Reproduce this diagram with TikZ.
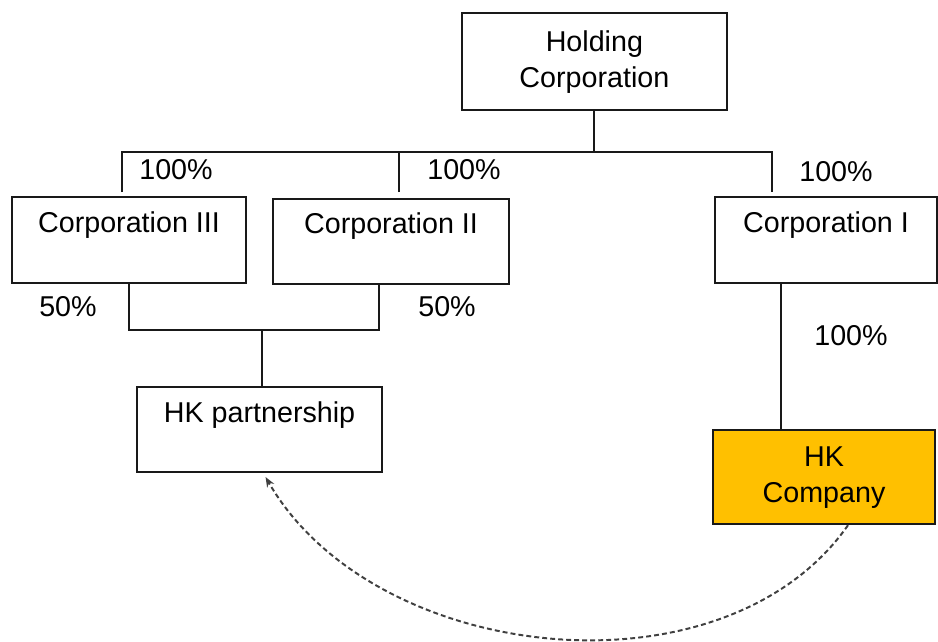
\documentclass[tikz,border=0pt]{standalone}
\usepackage{fontspec}
\setmainfont{Liberation Sans}
\usepackage{tikz}
\usetikzlibrary{arrows}
\usetikzlibrary{arrows.meta}
\usepackage{xcolor}
\definecolor{hkorange}{HTML}{FFC000}

\begin{document}
\begin{tikzpicture}
\tikzset{>={Stealth[width=2mm,length=2.5mm]}}
\tikzstyle{entity} =[draw=black!90,line width=1.4pt,align=center,inner sep=0pt,font=\fontsize{20.4}{25.6}\selectfont]
\tikzstyle{share} =[inner sep=0pt,font=\fontsize{20.4}{25.6}\selectfont]
\tikzstyle{tree} =[draw=black!90,line width=1.4pt]
\useasboundingbox (0,0) rectangle (23.45,-16.025);
\node[entity,minimum width=6.625cm,minimum height=2.425cm](hold) at (14.86,-1.54){Holding\\Corporation};
\node[entity,minimum width=5.85cm,minimum height=2.15cm](corp3) at (3.225,-6.0){Corporation III\\~};
\node[entity,minimum width=5.9cm,minimum height=2.125cm](corp2) at (9.775,-6.04){Corporation II\\~};
\node[entity,minimum width=5.55cm,minimum height=2.15cm](corp1) at (20.65,-6.0){Corporation I\\~};
\node[entity,minimum width=6.125cm,minimum height=2.125cm](hkp) at (6.49,-10.74){HK partnership\\~};
\node[entity,fill=hkorange,minimum width=5.55cm,minimum height=2.35cm](hkc) at (20.6,-11.93){HK\\Company};

\node[share](p3) at (4.4,-4.25){100\%};
\node[share](p2) at (11.6,-4.25){100\%};
\node[share](p1) at (20.9,-4.3){100\%};
\node[share](q3) at (1.7,-7.675){50\%};
\node[share](q2) at (11.175,-7.675){50\%};
\node[share](pc) at (21.275,-8.4){100\%};

\coordinate (bus) at (14.86,-3.8);
\coordinate (d3) at (3.05,-4.8);
\coordinate (d2) at (9.975,-4.8);
\coordinate (d1) at (19.3,-4.8);
\coordinate (join) at (6.55,-8.25);

\draw[tree] (hold) -- (bus);
\draw[tree] (d3) |- (bus) -| (d1);
\draw[tree] (d2) -- (d2 |- bus);
\draw[tree] (corp3.south) |- (join) -| ([xshift=-0.3cm]corp2.south);
\draw[tree] (join) -- (join |- hkp.north);
\draw[tree] ([xshift=-1.125cm]corp1.south) coordinate (t1) -- (t1 |- hkc.north);

\draw [->,black!75,line width=1.4pt,dash pattern=on 3.5pt off 2.2pt] ([xshift=0.6cm]hkc.south) to [out=-125,in=-60,looseness=0.95] ([xshift=0.15cm,yshift=-0.1cm]hkp.south);
\end{tikzpicture}
\end{document}
